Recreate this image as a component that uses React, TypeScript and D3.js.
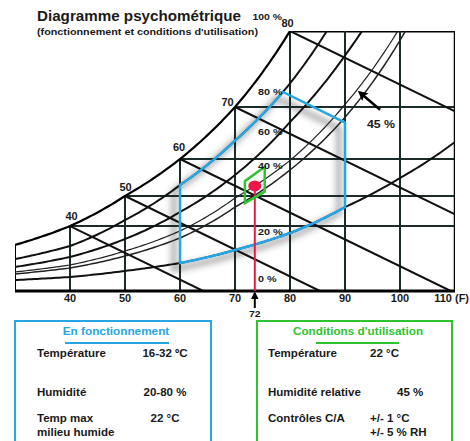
import React from "react";
import * as d3 from "d3";

type Pt = [number, number];

// saturation curve (100 %): temperature F -> humidity g/kg
const satTemps = [30, 40, 50, 60, 70, 80];
const satHumidity = [3.95, 5.57, 8.15, 11.32, 15.78, 22.3];

// relative humidity curves, [temp F, humidity g/kg]
const rh80: Pt[] = [[30, 2.74], [40, 3.86], [50, 6.09], [60, 9.09], [70, 12.9], [80, 17.8], [86.7, 22.3]];
const rh60: Pt[] = [[30, 2.06], [40, 2.92], [50, 4.46], [60, 6.78], [70, 9.95], [80, 14.5], [90, 20.2], [93.1, 22.3]];
const rh45: Pt[] = [[30, 1.63], [40, 2.23], [50, 3.43], [60, 5.15], [70, 7.98], [80, 11.2], [90, 16.0], [99.6, 22.3]];
const rh40: Pt[] = [[30, 1.46], [40, 1.97], [50, 3.0], [60, 4.55], [70, 7.2], [80, 10.38], [90, 14.9], [101, 22.3]];
const rh20: Pt[] = [[30, 0.94], [40, 1.2], [50, 1.72], [60, 2.4], [70, 3.52], [80, 4.97], [90, 7.2], [100, 9.69], [110, 12.78]];

const gridTemps = [40, 50, 60, 70, 80, 90, 100, 110];
const xTickLabels = ["40", "50", "60", "70", "80", "90", "100", "110 (F)"];
const dewPointTemps = [40, 50, 60, 70, 80];
const wetBulbSlope = 0.23; // g/kg per F

const rhLabels = ["80 %", "60 %", "40 %", "20 %", "0 %"];

// operating envelope (16-32 C, 20-80 %, wet bulb max)
const envTemps = [60, 90];
const envMaxWetBulb = 74;

// operating point 22 C / 45 %, +/- 1 C, +/- 5 %
const markerTemp = 73.6;
const markerLabel = "72";
const markerRh = 45;
const tolTemp = 1.8;
const tolRh = 5;

const leftRows = [
  ["Température", "16-32 ºC"],
  ["Humidité", "20-80 %"],
  ["Temp max|milieu humide", "22 °C"],
];
const rightRows = [
  ["Température", "22 °C"],
  ["Humidité relative", "45 %"],
  ["Contrôles C/A", "+/- 1 °C|+/- 5 % RH"],
];

const BLUE = "#27a6e4";
const GREEN = "#2fc42f";
const RED = "#ec1846";
const GRID = "#1c2a2a";
const FONT = "'Liberation Sans', Arial, Helvetica, sans-serif";
const SX = 1.1;

function logInterp(pts: Pt[]) {
  const s = d3
    .scaleLinear()
    .domain(pts.map((p) => p[0]))
    .range(pts.map((p) => Math.log(p[1])));
  return (t: number) => Math.exp(s(t));
}

function sample(fn: (t: number) => number, t0: number, t1: number, step = 0.5): Pt[] {
  const ts = t0 < t1 ? d3.range(t0, t1, step) : d3.range(t0, t1, -step);
  ts.push(t1);
  return ts.map((t) => [t, fn(t)] as Pt);
}

function Txt(props: {
  x: number;
  y: number;
  size: number;
  anchor?: string;
  fill?: string;
  children: React.ReactNode;
}) {
  const { x, y, size, anchor = "start", fill = "#1a1a1a", children } = props;
  return (
    <text
      transform={`translate(${x},${y}) scale(${SX},1)`}
      fontSize={size}
      fontWeight="bold"
      fontFamily={FONT}
      textAnchor={anchor}
      fill={fill}
    >
      {children}
    </text>
  );
}

export default function App() {
  const x = d3.scaleLinear().domain([30, 110]).range([15, 455]);
  const y = d3.scaleLinear().domain([0, 22.3]).range([291, 31]);
  const line = d3
    .line<Pt>()
    .x((d) => x(d[0]))
    .y((d) => y(d[1]));

  const sat = logInterp(d3.zip(satTemps, satHumidity) as Pt[]);
  const f80 = logInterp(rh80);
  const f60 = logInterp(rh60);
  const f45 = logInterp(rh45);
  const f40 = logInterp(rh40);
  const f20 = logInterp(rh20);
  const wTop = y.domain()[1];

  const curves = [
    { pts: rh80, fn: f80, w: 2 },
    { pts: rh60, fn: f60, w: 2 },
    { pts: rh45, fn: f45, w: 1.2 },
    { pts: rh40, fn: f40, w: 1.5 },
    { pts: rh20, fn: f20, w: 2 },
  ];

  // envelope
  const wbW = (t: number) => sat(envMaxWetBulb) - wetBulbSlope * (t - envMaxWetBulb);
  const tInt = d3.range(envTemps[0], envTemps[1], 0.05).find((t) => f80(t) >= wbW(t)) ?? envTemps[1];
  const envPts: Pt[] = [
    [envTemps[0], f20(envTemps[0])],
    ...sample(f80, envTemps[0], tInt),
    [envTemps[1], wbW(envTemps[1])],
    ...sample(f20, envTemps[1], envTemps[0]),
  ];
  const envPath = line(envPts) + "Z";

  // tolerance diamond
  const tA = markerTemp - tolTemp;
  const tB = markerTemp + tolTemp;
  const hi = (markerRh + tolRh) / markerRh;
  const lo = (markerRh - tolRh) / markerRh;
  const diamond: Pt[] = [
    [tA, f45(tA) * hi],
    [tB, f45(tB) * hi],
    [tB, f45(tB) * lo],
    [tA, f45(tA) * lo],
  ];
  const markerW = f45(markerTemp);

  const satLabelDx = [1.5, 0.5, -1, -7.5, -2.5];
  const satLabelDy = [-6, -5, -8, -1, -4];
  const rhLabelFns = [f80, f60, f40, f20, () => 0];
  const rhLabelDy = [2, 4, -7, -1, -9];
  const rhLabelT = 78.5;

  const arrowTipT = 92.2;
  const arrowTip: [number, number] = [x(arrowTipT), y(f45(arrowTipT))];

  return (
    <svg
      width={470}
      height={441}
      style={{ position: "absolute", left: 0, top: 0, background: "#fff" }}
    >
      <defs>
        <clipPath id="plot">
          <rect x={x(30)} y={y(wTop)} width={x(110) - x(30)} height={y(0) - y(wTop)} />
        </clipPath>
        <filter id="blur" x="-20%" y="-20%" width="140%" height="140%">
          <feGaussianBlur stdDeviation="3" />
        </filter>
        <marker id="head" viewBox="0 0 10 10" refX="8" refY="5" markerWidth="4" markerHeight="4" orient="auto">
          <path d="M0,0 L10,5 L0,10 Z" fill="#000" />
        </marker>
        <marker id="head2" viewBox="0 0 10 10" refX="7" refY="5" markerWidth="4.4" markerHeight="4" orient="auto">
          <path d="M0,0 L10,5 L0,10 L2,5 Z" fill="#000" />
        </marker>
      </defs>

      <rect width={470} height={441} fill="#fff" />

      {/* title */}
      <Txt x={37} y={21} size={13.8}>Diagramme psychométrique</Txt>
      <Txt x={37} y={35} size={9.8}>(fonctionnement et conditions d'utilisation)</Txt>

      {/* envelope shadow */}
      <path
        d={envPath}
        transform="translate(-6,6)"
        fill="none"
        stroke="#444"
        strokeWidth={5}
        strokeOpacity={0.5}
        filter="url(#blur)"
      />

      <g clipPath="url(#plot)">
        {/* horizontal lines at dew points */}
        {dewPointTemps.map((t) => (
          <line
            key={"h" + t}
            x1={x(t)}
            x2={x(110)}
            y1={y(sat(t))}
            y2={y(sat(t))}
            stroke={t === 80 ? "#000" : GRID}
            strokeWidth={t === 80 ? 3 : 2}
          />
        ))}
        {/* vertical lines */}
        {[30, ...gridTemps].map((t) => (
          <line
            key={"v" + t}
            x1={x(t)}
            x2={x(t)}
            y1={y(t <= 80 ? sat(t) : wTop)}
            y2={y(0)}
            stroke={t === 110 || t === 30 ? "#000" : GRID}
            strokeWidth={t === 110 ? 2.5 : 2}
          />
        ))}
        {/* wet bulb lines */}
        {dewPointTemps.map((t) => {
          const w0 = sat(t);
          const tEnd = Math.min(110, t + w0 / wetBulbSlope);
          const wEnd = w0 - wetBulbSlope * (tEnd - t);
          return (
            <line
              key={"wb" + t}
              x1={x(t)}
              y1={y(w0)}
              x2={x(tEnd)}
              y2={y(wEnd)}
              stroke="#111"
              strokeWidth={2}
            />
          );
        })}
        {/* RH curves */}
        {curves.map((c, i) => (
          <path
            key={"c" + i}
            d={line(sample(c.fn, 30, c.pts[c.pts.length - 1][0])) ?? ""}
            fill="none"
            stroke={c.w < 1.8 ? "#222" : "#111"}
            strokeWidth={c.w}
          />
        ))}
        {/* saturation */}
        <path d={line(sample(sat, 30, 80)) ?? ""} fill="none" stroke="#000" strokeWidth={2.2} />
      </g>

      {/* bottom axis */}
      <line x1={x(30)} x2={x(110)} y1={y(0)} y2={y(0)} stroke="#000" strokeWidth={3} />

      {/* envelope */}
      <path d={envPath} fill="none" stroke={BLUE} strokeWidth={2.5} strokeLinejoin="miter" />

      {/* red marker line */}
      <line x1={x(markerTemp)} x2={x(markerTemp)} y1={y(markerW)} y2={y(0)} stroke={RED} strokeWidth={2} />
      <path
        d={(line(diamond) ?? "") + "Z"}
        fill="none"
        stroke={GREEN}
        strokeWidth={2.5}
      />
      <ellipse cx={x(markerTemp)} cy={y(markerW)} rx={6.5} ry={5.5} fill={RED} />

      {/* arrow at 72 */}
      <line
        x1={x(markerTemp)}
        x2={x(markerTemp)}
        y1={308}
        y2={y(0) + 2}
        stroke="#000"
        strokeWidth={2}
        markerEnd="url(#head)"
      />
      <Txt x={x(markerTemp)} y={317} size={9.5} anchor="middle">
        {markerLabel}
      </Txt>

      {/* 45 % arrow */}
      <line
        x1={arrowTip[0] + 23}
        y1={arrowTip[1] + 20}
        x2={arrowTip[0] + 3}
        y2={arrowTip[1] + 3}
        stroke="#000"
        strokeWidth={2.5}
        markerEnd="url(#head2)"
      />
      <Txt x={367} y={128} size={11.2}>
        45 %
      </Txt>

      {/* x ticks */}
      {gridTemps.map((t, i) => {
        const last = i === gridTemps.length - 1;
        return (
          <Txt
            key={"xt" + t}
            x={last ? 469 : x(t)}
            y={302}
            size={10}
            anchor={last ? "end" : "middle"}
          >
            {xTickLabels[i]}
          </Txt>
        );
      })}

      {/* saturation temp labels */}
      {dewPointTemps.map((t, i) => (
        <Txt key={"sl" + t} x={x(t) + satLabelDx[i]} y={y(sat(t)) + satLabelDy[i]} size={10} anchor="middle">
          {String(t)}
        </Txt>
      ))}
      <Txt x={x(80) - 8} y={y(wTop) - 11} size={9.5} anchor="end">
        100 %
      </Txt>

      {/* RH labels */}
      {rhLabels.map((l, i) => (
        <Txt key={"rl" + i} x={258} y={y(rhLabelFns[i](rhLabelT)) + rhLabelDy[i]} size={9.8}>
          {l}
        </Txt>
      ))}

      {/* left box */}
      <rect x={15} y={321} width={196} height={130} fill="none" stroke={BLUE} strokeWidth={2} />
      <Txt x={116} y={335} size={10.7} anchor="middle" fill={BLUE}>
        En fonctionnement
      </Txt>
      <line x1={65} x2={169} y1={343} y2={343} stroke={BLUE} strokeWidth={2} />
      {leftRows.map((r, i) => {
        const by = [357, 396, 422][i];
        return (
          <g key={"lr" + i}>
            {r[0].split("|").map((s, j) => (
              <Txt key={j} x={37} y={by + j * 14} size={10.5}>
                {s}
              </Txt>
            ))}
            <Txt x={165} y={by} size={10.5} anchor="middle">
              {r[1]}
            </Txt>
          </g>
        );
      })}

      {/* right box */}
      <rect x={257} y={321} width={195} height={130} fill="none" stroke={GREEN} strokeWidth={2} />
      <Txt x={358} y={335} size={10.7} anchor="middle" fill={GREEN}>
        Conditions d'utilisation
      </Txt>
      <line x1={316} x2={399} y1={343} y2={343} stroke={GREEN} strokeWidth={2} />
      {rightRows.map((r, i) => {
        const by = [357, 396, 422][i];
        const vx = [370, 397, 370][i];
        return (
          <g key={"rr" + i}>
            <Txt x={268} y={by} size={10.5}>
              {r[0]}
            </Txt>
            {r[1].split("|").map((s, j) => (
              <Txt key={j} x={vx} y={by + j * 14} size={10.5}>
                {s}
              </Txt>
            ))}
          </g>
        );
      })}
    </svg>
  );
}
